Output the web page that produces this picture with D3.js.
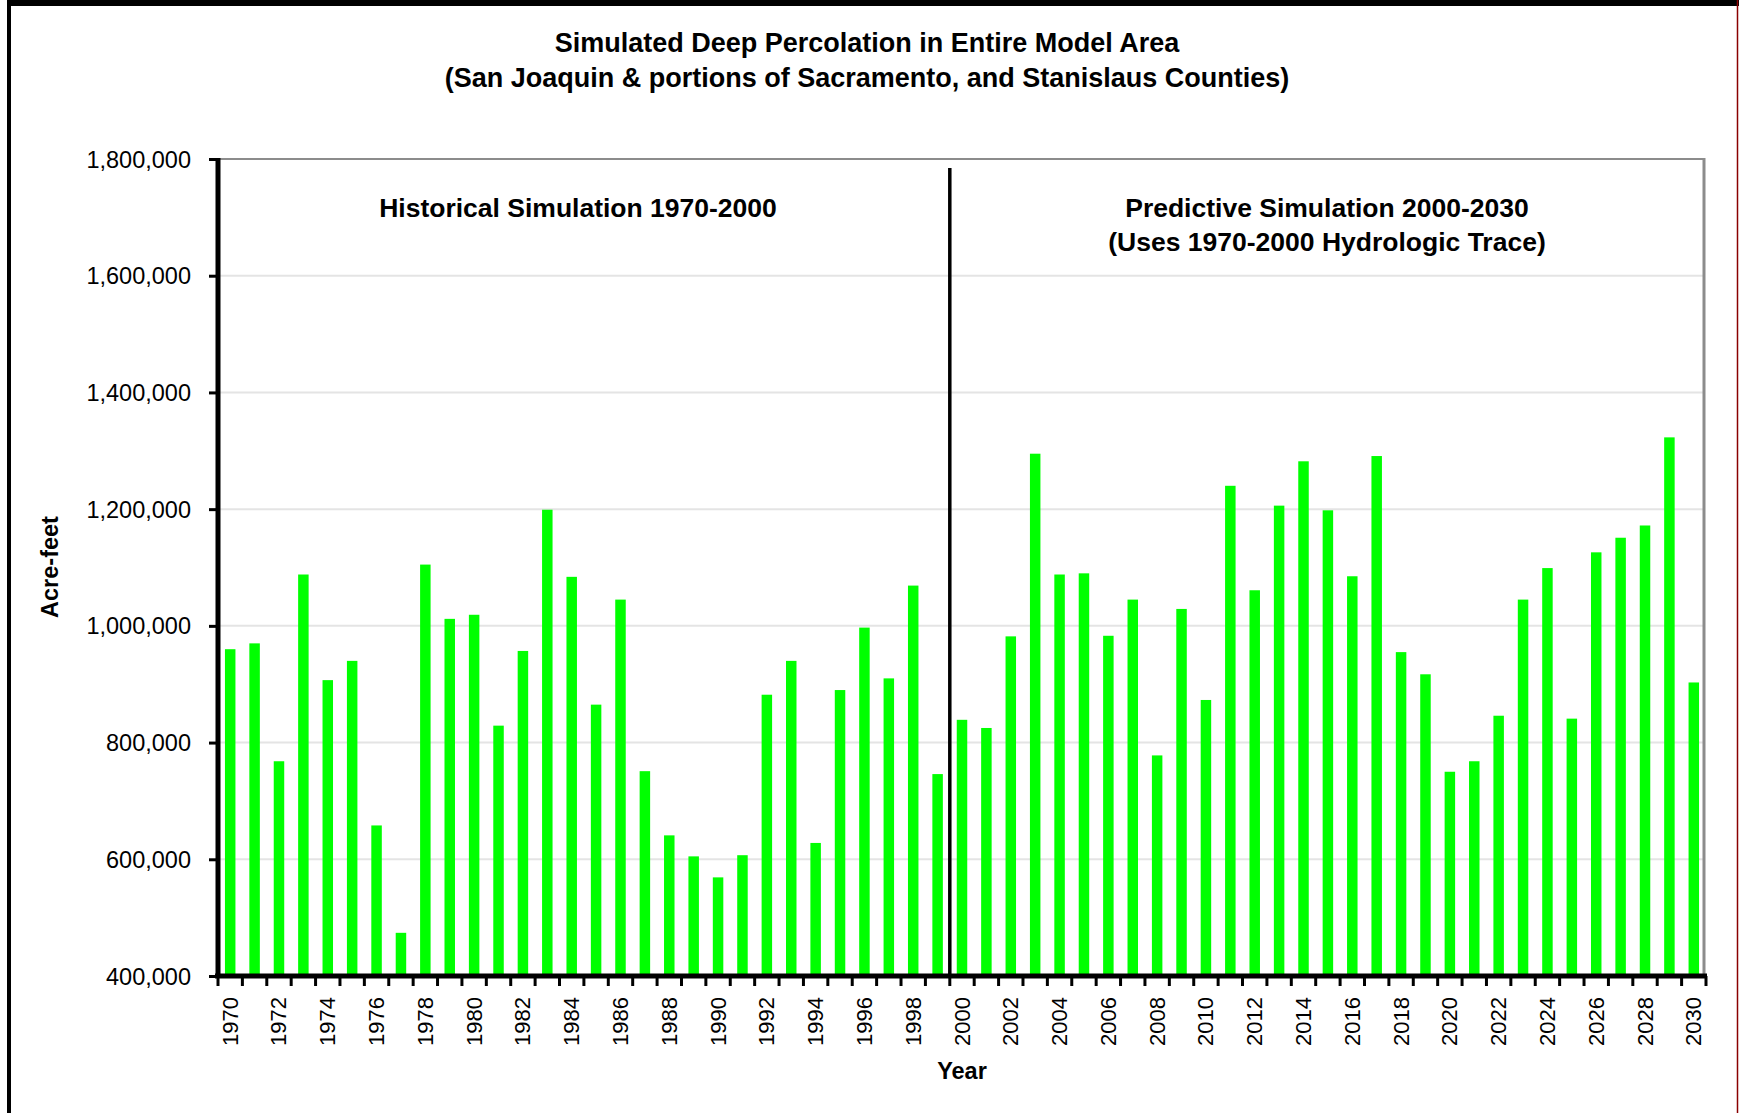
<!DOCTYPE html>
<html><head><meta charset="utf-8">
<script src="https://cdn.jsdelivr.net/npm/d3@7"></script>
<style>
html,body{margin:0;padding:0;background:#fff;}
svg{display:block;font-family:"Liberation Sans",Arial,Helvetica,sans-serif;}
</style>
</head><body>
<svg id="chart" width="1739" height="1113"></svg>
<script>
// ---- data ----
const years = [1970,1971,1972,1973,1974,1975,1976,1977,1978,1979,
  1980,1981,1982,1983,1984,1985,1986,1987,1988,1989,
  1990,1991,1992,1993,1994,1995,1996,1997,1998,1999,
  2000,2001,2002,2003,2004,2005,2006,2007,2008,2009,
  2010,2011,2012,2013,2014,2015,2016,2017,2018,2019,
  2020,2021,2022,2023,2024,2025,2026,2027,2028,2029,2030];
const deepPercolation = [960000,970000,768000,1088000,907000,940000,658000,474000,1105000,1012000,
  1019000,829000,957000,1199000,1084000,865000,1045000,751000,641000,605000,
  569000,607000,882000,940000,628000,890000,997000,910000,1069000,746000,
  839000,825000,982000,1295000,1088000,1090000,983000,1045000,778000,1029000,
  873000,1240000,1061000,1206000,1282000,1198000,1085000,1291000,955000,917000,
  750000,768000,846000,1045000,1099000,841000,1126000,1151000,1172000,1323000,903000];
const yTickValues = [400000,600000,800000,1000000,1200000,1400000,1600000,1800000];
const xTickLabels = [1970,1972,1974,1976,1978,1980,1982,1984,1986,1988,1990,1992,1994,1996,1998,
  2000,2002,2004,2006,2008,2010,2012,2014,2016,2018,2020,2022,2024,2026,2028,2030];
const titleLines = ["Simulated Deep Percolation in Entire Model Area",
  "(San Joaquin & portions of Sacramento, and Stanislaus Counties)"];
const historicalLabel = ["Historical Simulation 1970-2000"];
const predictiveLabel = ["Predictive Simulation 2000-2030", "(Uses 1970-2000 Hydrologic Trace)"];
const dividerYear = 2000;
const yAxisTitle = "Acre-feet";
const xAxisTitle = "Year";

// ---- layout ----
const svg = d3.select("#chart");
const pLeft = 218, pRight = 1706, pTop = 159, pBottom = 976;

const x = d3.scaleBand().domain(years).range([pLeft, pRight]).paddingInner(0.57).paddingOuter(0.285);
const y = d3.scaleLinear().domain([400000, 1800000]).range([pBottom, pTop]);

// outer frame
svg.append("rect").attr("x",0).attr("y",0).attr("width",1739).attr("height",1113).attr("fill","#fff");
svg.append("rect").attr("x",7).attr("y",0).attr("width",1732).attr("height",6).attr("fill","#000");
svg.append("rect").attr("x",7).attr("y",0).attr("width",4).attr("height",1113).attr("fill","#000");
svg.append("line").attr("x1",1737.5).attr("x2",1737.5).attr("y1",0).attr("y2",1113)
  .attr("stroke","#8a0000").attr("stroke-width",1.5);

// gridlines
svg.append("g").selectAll("line").data(yTickValues.filter(v => v > 400000 && v < 1800000)).join("line")
  .attr("x1", pLeft).attr("x2", pRight - 2)
  .attr("y1", d => y(d)).attr("y2", d => y(d))
  .attr("stroke", "#e4e4e4").attr("stroke-width", 2);

// plot border top & right
svg.append("line").attr("x1", pLeft).attr("x2", pRight - 1).attr("y1", y(1800000)).attr("y2", y(1800000))
  .attr("stroke", "#8c8c8c").attr("stroke-width", 2);
svg.append("line").attr("x1", pRight - 2).attr("x2", pRight - 2).attr("y1", y(1800000) - 1).attr("y2", pBottom)
  .attr("stroke", "#8c8c8c").attr("stroke-width", 3);

// bars
svg.append("g").selectAll("rect").data(years).join("rect")
  .attr("x", (d) => x(d))
  .attr("width", x.bandwidth())
  .attr("y", (d, i) => y(deepPercolation[i]))
  .attr("height", (d, i) => pBottom - y(deepPercolation[i]))
  .attr("fill", "#00ff00");

// divider line
const divX = x(dividerYear) - x.step() * x.paddingOuter();
svg.append("line").attr("x1", divX).attr("x2", divX).attr("y1", 168).attr("y2", pBottom)
  .attr("stroke", "#000").attr("stroke-width", 3.5);

// y axis
const yAxis = d3.axisLeft(y).tickValues(yTickValues).tickFormat(d3.format(",")).tickSize(9).tickPadding(18);
const gy = svg.append("g").attr("transform", `translate(${pLeft},0)`).call(yAxis);
gy.select(".domain").attr("stroke", "#000").attr("stroke-width", 5).attr("d", `M0,${pTop - 1}V${pBottom}`);
gy.selectAll(".tick line").attr("stroke", "#000").attr("stroke-width", 3);
gy.selectAll(".tick text").attr("font-size", 23.5).attr("fill", "#000").attr("dy", "0.34em")
  .attr("font-family", "'Liberation Sans',Arial,sans-serif");

// x axis: ticks at band boundaries
const boundaries = years.map(d => x(d) - x.step() * x.paddingOuter()).concat([pRight]);
const gx = svg.append("g");
gx.append("line").attr("x1", pLeft - 3).attr("x2", pRight + 1).attr("y1", pBottom).attr("y2", pBottom)
  .attr("stroke", "#000").attr("stroke-width", 5);
gx.selectAll("line.tk").data(boundaries).join("line").attr("class","tk")
  .attr("x1", d => d).attr("x2", d => d).attr("y1", pBottom).attr("y2", pBottom + 10)
  .attr("stroke", "#000").attr("stroke-width", 3);
gx.selectAll("text").data(xTickLabels).join("text")
  .attr("transform", d => `translate(${x(d) + x.bandwidth() / 2},${pBottom + 21}) rotate(-90)`)
  .attr("text-anchor", "end").attr("dominant-baseline", "central")
  .attr("font-size", 22).attr("fill", "#000")
  .text(d => d);

// titles
svg.append("g").selectAll("text").data(titleLines).join("text")
  .attr("x", 867).attr("y", (d, i) => 52 + i * 35)
  .attr("text-anchor", "middle").attr("font-weight", "bold").attr("font-size", 27)
  .attr("fill", "#000").text(d => d);

// annotations
svg.append("g").selectAll("text").data(historicalLabel).join("text")
  .attr("x", 578).attr("y", (d, i) => 217 + i * 34)
  .attr("text-anchor", "middle").attr("font-weight", "bold").attr("font-size", 26.5)
  .attr("fill", "#000").text(d => d);
svg.append("g").selectAll("text").data(predictiveLabel).join("text")
  .attr("x", 1327).attr("y", (d, i) => 217 + i * 34)
  .attr("text-anchor", "middle").attr("font-weight", "bold").attr("font-size", 26.5)
  .attr("fill", "#000").text(d => d);

// axis titles
svg.append("text")
  .attr("transform", "translate(50,567) rotate(-90)")
  .attr("text-anchor", "middle").attr("dominant-baseline", "central")
  .attr("font-weight", "bold").attr("font-size", 23.5).attr("fill", "#000")
  .text(yAxisTitle);
svg.append("text")
  .attr("x", 962).attr("y", 1079)
  .attr("text-anchor", "middle").attr("font-weight", "bold").attr("font-size", 23.5).attr("fill", "#000")
  .text(xAxisTitle);
</script>
</body></html>
